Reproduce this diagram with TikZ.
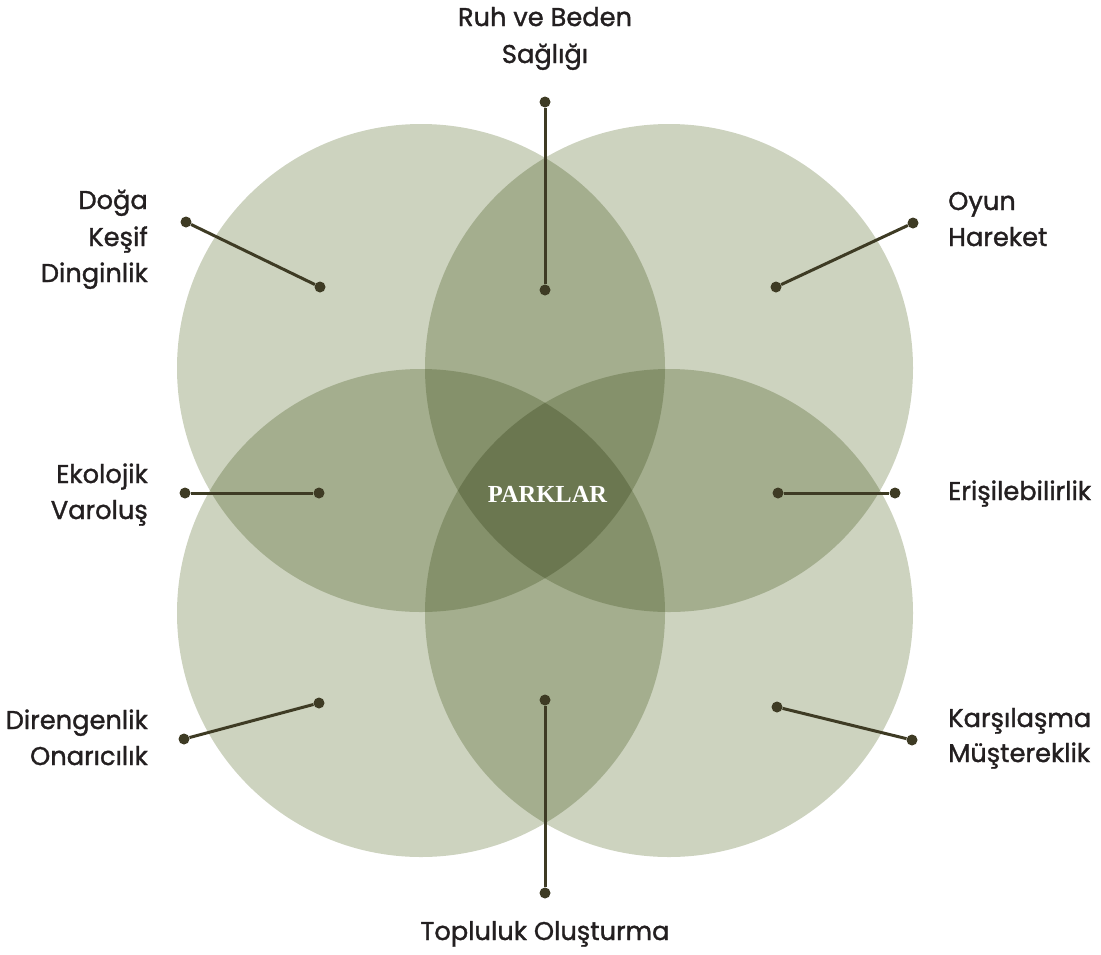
\documentclass[tikz,border=0pt]{standalone}
\usepackage{fontspec}
\setmainfont{Poppins}[FakeBold=1.3]
\newfontfamily\titlefont{Liberation Serif}
\definecolor{cA}{RGB}{205,211,191}
\definecolor{cB}{RGB}{164,174,142}
\definecolor{cC}{RGB}{133,145,107}
\definecolor{cD}{RGB}{107,119,80}
\definecolor{dotc}{RGB}{62,59,36}
\definecolor{txt}{RGB}{35,31,32}
\tikzset{
  dotnode/.style={circle,fill=dotc,inner sep=0pt,minimum size=11pt},
  conn/.style={draw=dotc,line width=3pt},
  lblL/.style={anchor=base east,inner sep=0pt,text=txt,font=\fontsize{25.7}{30}\selectfont},
  lblR/.style={anchor=base west,inner sep=0pt,text=txt,font=\fontsize{25.7}{30}\selectfont},
  lblC/.style={anchor=base,inner sep=0pt,text=txt,font=\fontsize{25.7}{30}\selectfont},
}
\begin{document}
\begin{tikzpicture}[x=1pt,y=-1pt]
\useasboundingbox (0,0) rectangle (1101,954);
\def\R{244}
\coordinate (TL) at (421,368);
\coordinate (TR) at (669,368);
\coordinate (BL) at (421,613);
\coordinate (BR) at (669,613);
% single
\foreach \c in {TL,TR,BL,BR} \fill[cA] (\c) circle (\R);
% pairs
\foreach \a/\b in {TL/TR,TL/BL,TL/BR,TR/BL,TR/BR,BL/BR}{
  \begin{scope}\clip (\a) circle (\R); \fill[cB] (\b) circle (\R);\end{scope}}
% triples
\foreach \a/\b/\c in {TL/TR/BL,TL/TR/BR,TL/BL/BR,TR/BL/BR}{
  \begin{scope}\clip (\a) circle (\R); \clip (\b) circle (\R); \fill[cC] (\c) circle (\R);\end{scope}}
% quad
\begin{scope}\clip (TL) circle (\R); \clip (TR) circle (\R); \clip (BL) circle (\R); \fill[cD] (BR) circle (\R);\end{scope}

\node[anchor=base,inner sep=0pt,text=white,font=\titlefont\bfseries\fontsize{24.5}{28}\selectfont] (parklar) at (547.5,502) {PARKLAR};

% dots
\node[dotnode] (t1) at (545,102) {};
\node[dotnode] (t2) at (545,290) {};
\node[dotnode] (d1) at (186,222) {};
\node[dotnode] (d2) at (320,287) {};
\node[dotnode] (o1) at (913,223) {};
\node[dotnode] (o2) at (776,287) {};
\node[dotnode] (e1) at (185,493) {};
\node[dotnode] (e2) at (319,493) {};
\node[dotnode] (r1) at (778,493) {};
\node[dotnode] (r2) at (895,493) {};
\node[dotnode] (g1) at (184,739) {};
\node[dotnode] (g2) at (319,703) {};
\node[dotnode] (k1) at (777,707) {};
\node[dotnode] (k2) at (912,740) {};
\node[dotnode] (b1) at (545,700) {};
\node[dotnode] (b2) at (545,893) {};
\foreach \a/\b in {t1/t2,d1/d2,o1/o2,e1/e2,r1/r2,g1/g2,k1/k2,b1/b2} \draw[conn] (\a) -- (\b);

% labels
\node[lblC] (ruh1) at (545,26) {Ruh ve Beden};
\node[lblC] (ruh2) at (545,63) {Sağlığı};
\node[lblL] (dg1) at (148,209) {Doğa};
\node[lblL] (dg2) at (148,246) {Keşif};
\node[lblL] (dg3) at (148,282) {Dinginlik};
\node[lblR] (oy1) at (948,210) {Oyun};
\node[lblR] (oy2) at (948,246) {Hareket};
\node[lblL] (ek1) at (148,483) {Ekolojik};
\node[lblL] (ek2) at (148,519) {Varoluş};
\node[lblR] (er1) at (948,500) {Erişilebilirlik};
\node[lblL] (di1) at (148,729) {Direngenlik};
\node[lblL] (di2) at (148,765) {Onarıcılık};
\node[lblR] (ka1) at (948,727) {Karşılaşma};
\node[lblR] (ka2) at (948,762) {Müştereklik};
\node[lblC] (top1) at (545,940) {Topluluk Oluşturma};
\end{tikzpicture}
\end{document}
